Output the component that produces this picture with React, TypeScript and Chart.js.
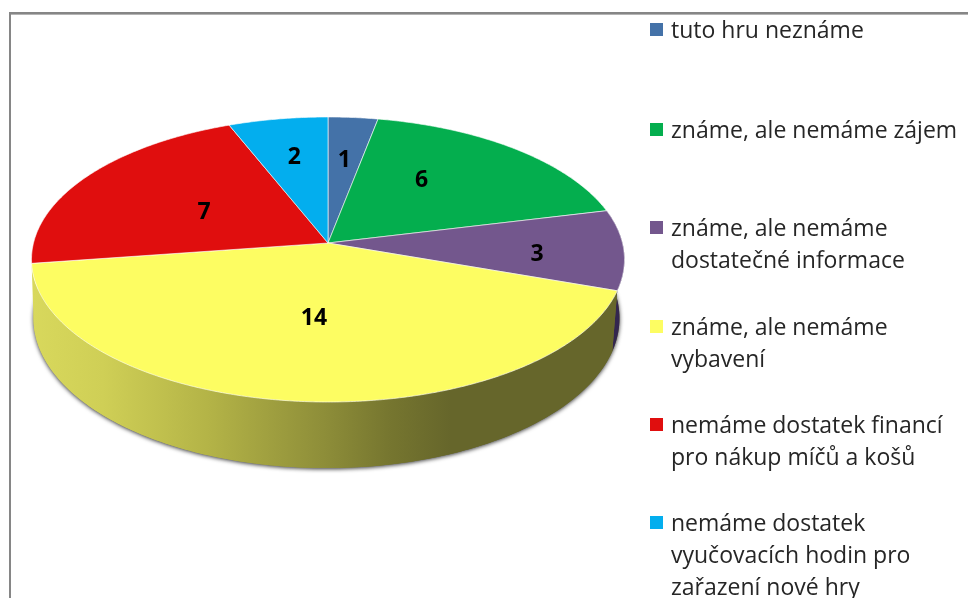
import React, { useEffect, useRef } from "react";
import { Chart, registerables } from "chart.js";

Chart.register(...registerables);

const categories = [
  "tuto hru neznáme",
  "známe, ale nemáme zájem",
  "známe, ale nemáme dostatečné informace",
  "známe, ale nemáme vybavení",
  "nemáme dostatek financí pro nákup míčů a košů",
  "nemáme dostatek vyučovacích hodin pro zařazení nové hry",
];
const values = [1, 6, 3, 14, 7, 2];
const colors = ["#4472a8", "#04ae4e", "#73578d", "#fdfd62", "#e00e0e", "#03aeee"];
const purpleWall = "#33264f";
const legendLines = [
  ["tuto hru neznáme"],
  ["známe, ale nemáme zájem"],
  ["známe, ale nemáme", "dostatečné informace"],
  ["známe, ale nemáme", "vybavení"],
  ["nemáme dostatek financí", "pro nákup míčů a košů"],
  ["nemáme dostatek", "vyučovacích hodin pro", "zařazení nové hry"],
];
const legendBaselines = [38, 138, 236, 335, 433, 531];
const labelNudges = [
  [0, 0],
  [-28, -2],
  [23, 7],
  [5, -20],
  [31, 12],
  [-1, -4],
];

// projection of the flat pie circle on to the tilted view
const CX = 328;
const CY = 243;
const P = -0.1158;
const TOP_A = 140.6;
const TOP_B = 294.5;
const BOT_CX = 326.5;
const BOT_A = 141;
const BOT_B = 291;
const BOT_D = 58;

const top = (t: number, r = 1) => {
  const u = Math.cos(t) * r;
  const v = Math.sin(t) * r;
  const w = 1 + P * v;
  return [CX + (TOP_B * u) / w, CY + (TOP_A * v) / w];
};
const bottom = (t: number) => {
  const u = Math.cos(t);
  const v = Math.sin(t);
  const w = 1 + P * v;
  return [BOT_CX + (BOT_B * u) / w, CY + (BOT_A * v + BOT_D) / w];
};

const tiltedPie = {
  id: "tiltedPie",
  beforeDatasetDraw(chart: any, args: any) {
    const ctx = chart.ctx as CanvasRenderingContext2D;
    const arcs = args.meta.data;
    const STEP = Math.PI / 180;

    ctx.save();
    const grad = ctx.createLinearGradient(33, 0, 613, 0);
    grad.addColorStop(0, "#d8d85c");
    grad.addColorStop(0.12, "#cfcf56");
    grad.addColorStop(0.3, "#b4b447");
    grad.addColorStop(0.5, "#8e8e39");
    grad.addColorStop(0.62, "#75752f");
    grad.addColorStop(0.72, "#66662b");
    grad.addColorStop(1, "#66662b");

    // shadow under the body
    ctx.save();
    ctx.shadowColor = "rgba(0,0,0,0.8)";
    ctx.shadowBlur = 4;
    ctx.shadowOffsetY = 1;
    ctx.fillStyle = grad;
    ctx.beginPath();
    for (let t = 0; t < Math.PI * 2; t += STEP) {
      const [x, y] = bottom(t);
      ctx.lineTo(x, y);
    }
    ctx.closePath();
    ctx.fill();
    ctx.restore();

    // side walls: only the purple and yellow slices face the viewer
    [2, 3].forEach((i) => {
      const { startAngle, endAngle } = arcs[i].getProps(["startAngle", "endAngle"]);
      ctx.beginPath();
      for (let t = startAngle; t < endAngle; t += STEP) {
        const [x, y] = top(t);
        ctx.lineTo(x, y);
      }
      ctx.lineTo(...(top(endAngle) as [number, number]));
      ctx.lineTo(...(bottom(endAngle) as [number, number]));
      for (let t = endAngle; t > startAngle; t -= STEP) {
        const [x, y] = bottom(t);
        ctx.lineTo(x, y);
      }
      ctx.lineTo(...(bottom(startAngle) as [number, number]));
      ctx.closePath();
      ctx.fillStyle = i === 3 ? grad : purpleWall;
      ctx.fill();
    });

    // top faces
    arcs.forEach((arc: any, i: number) => {
      const { startAngle, endAngle } = arc.getProps(["startAngle", "endAngle"]);
      ctx.beginPath();
      ctx.moveTo(CX, CY);
      for (let t = startAngle; t < endAngle; t += STEP / 2) {
        const [x, y] = top(t);
        ctx.lineTo(x, y);
      }
      ctx.lineTo(...(top(endAngle) as [number, number]));
      ctx.closePath();
      ctx.fillStyle = colors[i];
      ctx.fill();
      ctx.strokeStyle = "rgba(255,255,255,0.6)";
      ctx.lineWidth = 1;
      ctx.stroke();
    });
    ctx.restore();
    return false;
  },
  afterDraw(chart: any) {
    const ctx = chart.ctx as CanvasRenderingContext2D;
    const arcs = chart.getDatasetMeta(0).data;
    ctx.save();

    // frame
    ctx.fillStyle = "#868686";
    ctx.fillRect(9, 12, 959, 2);
    ctx.fillRect(9, 12, 2, 586);
    ctx.fillStyle = "#b4b4b4";
    ctx.fillRect(11, 14, 957, 1);

    // value labels
    ctx.fillStyle = "#000";
    ctx.font = "bold 23px 'Open Sans'";
    ctx.textAlign = "center";
    ctx.textBaseline = "middle";
    arcs.forEach((arc: any, i: number) => {
      const { startAngle, endAngle } = arc.getProps(["startAngle", "endAngle"]);
      const [x, y] = top((startAngle + endAngle) / 2, 0.63);
      ctx.fillText(String(values[i]), x + labelNudges[i][0], y + labelNudges[i][1]);
    });

    // legend
    ctx.textAlign = "left";
    ctx.textBaseline = "alphabetic";
    ctx.font = "23px 'Open Sans'";
    legendLines.forEach((lines, i) => {
      ctx.fillStyle = colors[i];
      ctx.fillRect(650, legendBaselines[i] - 15, 13, 13);
      ctx.fillStyle = "#262626";
      lines.forEach((line, j) => {
        ctx.fillText(line, 671, legendBaselines[i] + j * 32);
      });
    });
    ctx.restore();
  },
};

export default function App() {
  const ref = useRef<HTMLCanvasElement | null>(null);
  useEffect(() => {
    if (!ref.current) return;
    const chart = new Chart(ref.current, {
      type: "pie",
      data: {
        labels: categories,
        datasets: [{ data: values, backgroundColor: colors }],
      },
      options: {
        responsive: false,
        animation: false,
        plugins: { legend: { display: false }, tooltip: { enabled: false } },
      },
      plugins: [tiltedPie],
    } as any);
    return () => chart.destroy();
  }, []);
  return (
    <div style={{ position: "fixed", left: 0, top: 0, width: 968, height: 598, overflow: "hidden", background: "#fff" }}>
      <canvas ref={ref} width={968} height={598} style={{ display: "block", filter: "blur(0.5px)" }} />
    </div>
  );
}
